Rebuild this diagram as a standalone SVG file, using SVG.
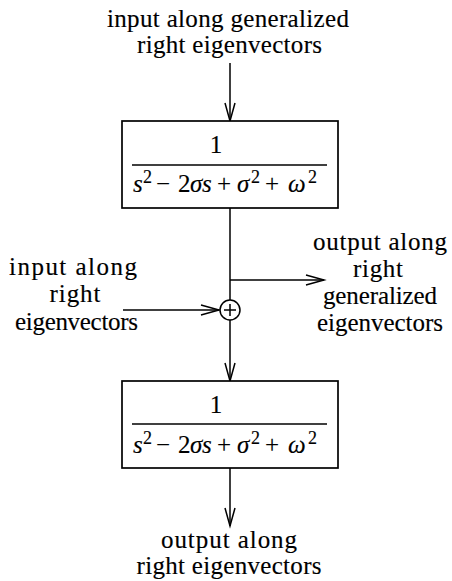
<svg xmlns="http://www.w3.org/2000/svg" width="452" height="581" viewBox="0 0 452 581">
<style>
.t{font-family:"Liberation Serif","Times New Roman",serif;font-size:25px;fill:#000;stroke:#000;stroke-width:0.15;text-anchor:middle}
.m{font-family:"Liberation Serif","Times New Roman",serif;font-size:25px;fill:#000;stroke:#000;stroke-width:0.15}
.i{font-style:italic}
.sup{font-size:18px}
.box{fill:#fff;stroke:#000;stroke-width:1.7}
.ln{stroke:#000;stroke-width:1.5;fill:none}
.frac{stroke:#000;stroke-width:1.4}
</style>
<defs>
<marker id="ah" markerUnits="userSpaceOnUse" markerWidth="22" markerHeight="14" refX="19" refY="6" orient="auto">
<path d="M1,1 L19,6 L1,11" fill="none" stroke="#000" stroke-width="1.5"/>
</marker>
</defs>
<rect width="452" height="581" fill="#fff"/>

<g id="connectors">
<line class="ln" x1="230" y1="63" x2="230" y2="121" marker-end="url(#ah)"/>
<line class="ln" x1="230" y1="208" x2="230" y2="300"/>
<line class="ln" x1="230" y1="280" x2="324" y2="280" marker-end="url(#ah)"/>
<line class="ln" x1="123" y1="310" x2="219" y2="310" marker-end="url(#ah)"/>
<line class="ln" x1="230" y1="320" x2="230" y2="381" marker-end="url(#ah)"/>
<line class="ln" x1="230" y1="468" x2="230" y2="526" marker-end="url(#ah)"/>
</g>

<g id="label-top">
<text class="t" x="228" y="27" textLength="242" lengthAdjust="spacing">input along generalized</text>
<text class="t" x="229.5" y="53" textLength="185" lengthAdjust="spacing">right eigenvectors</text>
</g>

<g id="block1">
<rect class="box" x="122" y="121" width="216" height="87"/>
<text class="t" x="216" y="153">1</text>
<line class="frac" x1="132" y1="165" x2="327" y2="165"/>
<text class="m" y="192"><tspan class="i" x="133">s</tspan><tspan class="sup" x="143" dy="-9">2</tspan><tspan x="156" dy="9">−</tspan><tspan x="178">2</tspan><tspan class="i" x="190">σ</tspan><tspan class="i" x="202">s</tspan><tspan x="217">+</tspan><tspan class="i" x="237">σ</tspan><tspan class="sup" x="251" dy="-9">2</tspan><tspan x="265" dy="9">+</tspan><tspan class="i" x="288">ω</tspan><tspan class="sup" x="308" dy="-9">2</tspan></text>
</g>

<g id="sum">
<circle cx="230" cy="310" r="10" fill="#fff" stroke="#000" stroke-width="1.5"/>
<line class="ln" x1="224" y1="310" x2="236" y2="310" stroke-width="1.3"/>
<line class="ln" x1="230" y1="304" x2="230" y2="316" stroke-width="1.3"/>
</g>

<g id="label-left">
<text class="t" x="73" y="275" textLength="128" lengthAdjust="spacing">input along</text>
<text class="t" x="75" y="302" textLength="51" lengthAdjust="spacing">right</text>
<text class="t" x="76.5" y="330" textLength="123" lengthAdjust="spacing">eigenvectors</text>
</g>

<g id="label-right">
<text class="t" x="380" y="250" textLength="134" lengthAdjust="spacing">output along</text>
<text class="t" x="378" y="277" textLength="50" lengthAdjust="spacing">right</text>
<text class="t" x="380" y="304" textLength="114" lengthAdjust="spacing">generalized</text>
<text class="t" x="380" y="331" textLength="126" lengthAdjust="spacing">eigenvectors</text>
</g>

<g id="block2">
<rect class="box" x="122" y="381" width="216" height="87"/>
<text class="t" x="216" y="413">1</text>
<line class="frac" x1="132" y1="424" x2="327" y2="424"/>
<text class="m" y="453"><tspan class="i" x="133">s</tspan><tspan class="sup" x="143" dy="-9">2</tspan><tspan x="156" dy="9">−</tspan><tspan x="178">2</tspan><tspan class="i" x="190">σ</tspan><tspan class="i" x="202">s</tspan><tspan x="217">+</tspan><tspan class="i" x="237">σ</tspan><tspan class="sup" x="251" dy="-9">2</tspan><tspan x="265" dy="9">+</tspan><tspan class="i" x="288">ω</tspan><tspan class="sup" x="308" dy="-9">2</tspan></text>
</g>

<g id="label-bottom">
<text class="t" x="229" y="548" textLength="136" lengthAdjust="spacing">output along</text>
<text class="t" x="229" y="574" textLength="185" lengthAdjust="spacing">right eigenvectors</text>
</g>
</svg>
